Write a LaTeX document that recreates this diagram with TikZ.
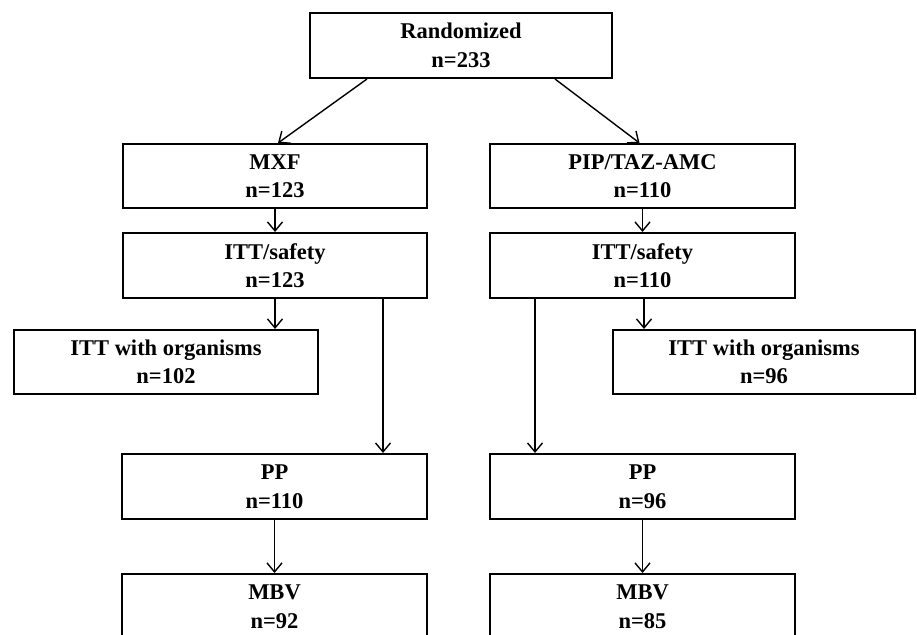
\documentclass[tikz,border=0pt]{standalone}
\usepackage{fontspec}
\setmainfont{Liberation Serif}
\usetikzlibrary{arrows.meta}
\begin{document}
\begin{tikzpicture}[x=1pt,y=-1pt,
  box/.style={draw=black, line width=2pt, rectangle, align=center, inner sep=0pt,
    font=\bfseries\fontsize{22.5}{28.5}\selectfont},
  conn/.style={line width=1.4pt, -{Straight Barb[length=9pt,width=15pt,line width=1.4pt]}}]
\useasboundingbox (0,0) rectangle (917,634);
\clip (0,0) rectangle (917,634);
\node[box, minimum width=302pt, minimum height=65pt] (rand) at (461,45.5) {Randomized\\n=233};
\node[box, minimum width=304pt, minimum height=64pt] (mxf) at (275,176) {MXF\\n=123};
\node[box, minimum width=305pt, minimum height=64pt] (pip) at (642.5,176) {PIP/TAZ-AMC\\n=110};
\node[box, minimum width=304pt, minimum height=65pt] (ittL) at (275,265.5) {ITT/safety\\n=123};
\node[box, minimum width=305pt, minimum height=65pt] (ittR) at (642.5,265.5) {ITT/safety\\n=110};
\node[box, minimum width=304pt, minimum height=64pt] (orgL) at (166,362) {ITT with organisms\\n=102};
\node[box, minimum width=302pt, minimum height=64pt] (orgR) at (764,362) {ITT with organisms\\n=96};
\node[box, minimum width=305pt, minimum height=65pt] (ppL) at (274.5,486.5) {PP\\n=110};
\node[box, minimum width=305pt, minimum height=65pt] (ppR) at (642.5,486.5) {PP\\n=96};
\node[box, minimum width=305pt, minimum height=65pt] (mbvL) at (274.5,606.5) {MBV\\n=92};
\node[box, minimum width=305pt, minimum height=65pt] (mbvR) at (642.5,606.5) {MBV\\n=85};
\draw[conn] ([xshift=58pt]rand.south west) -- ([xshift=3pt]mxf.north);
\draw[conn] ([xshift=-58pt]rand.south east) -- ([xshift=-3pt]pip.north);
\draw[conn] (mxf.south) -- (ittL.north);
\draw[conn] (pip.south) -- (ittR.north);
\draw[conn] (ittL.south) -- (ittL.south |- orgL.north);
\draw[conn] ([xshift=108pt]ittL.south) -- ([xshift=108pt]ittL.south |- ppL.north);
\draw[conn] ([xshift=1.5pt]ittR.south) -- ([xshift=1.5pt]ittR.south |- orgR.north);
\draw[conn] ([xshift=-107.5pt]ittR.south) -- ([xshift=-107.5pt]ittR.south |- ppR.north);
\draw[conn] (ppL.south) -- (mbvL.north);
\draw[conn] (ppR.south) -- (mbvR.north);
\end{tikzpicture}
\end{document}
